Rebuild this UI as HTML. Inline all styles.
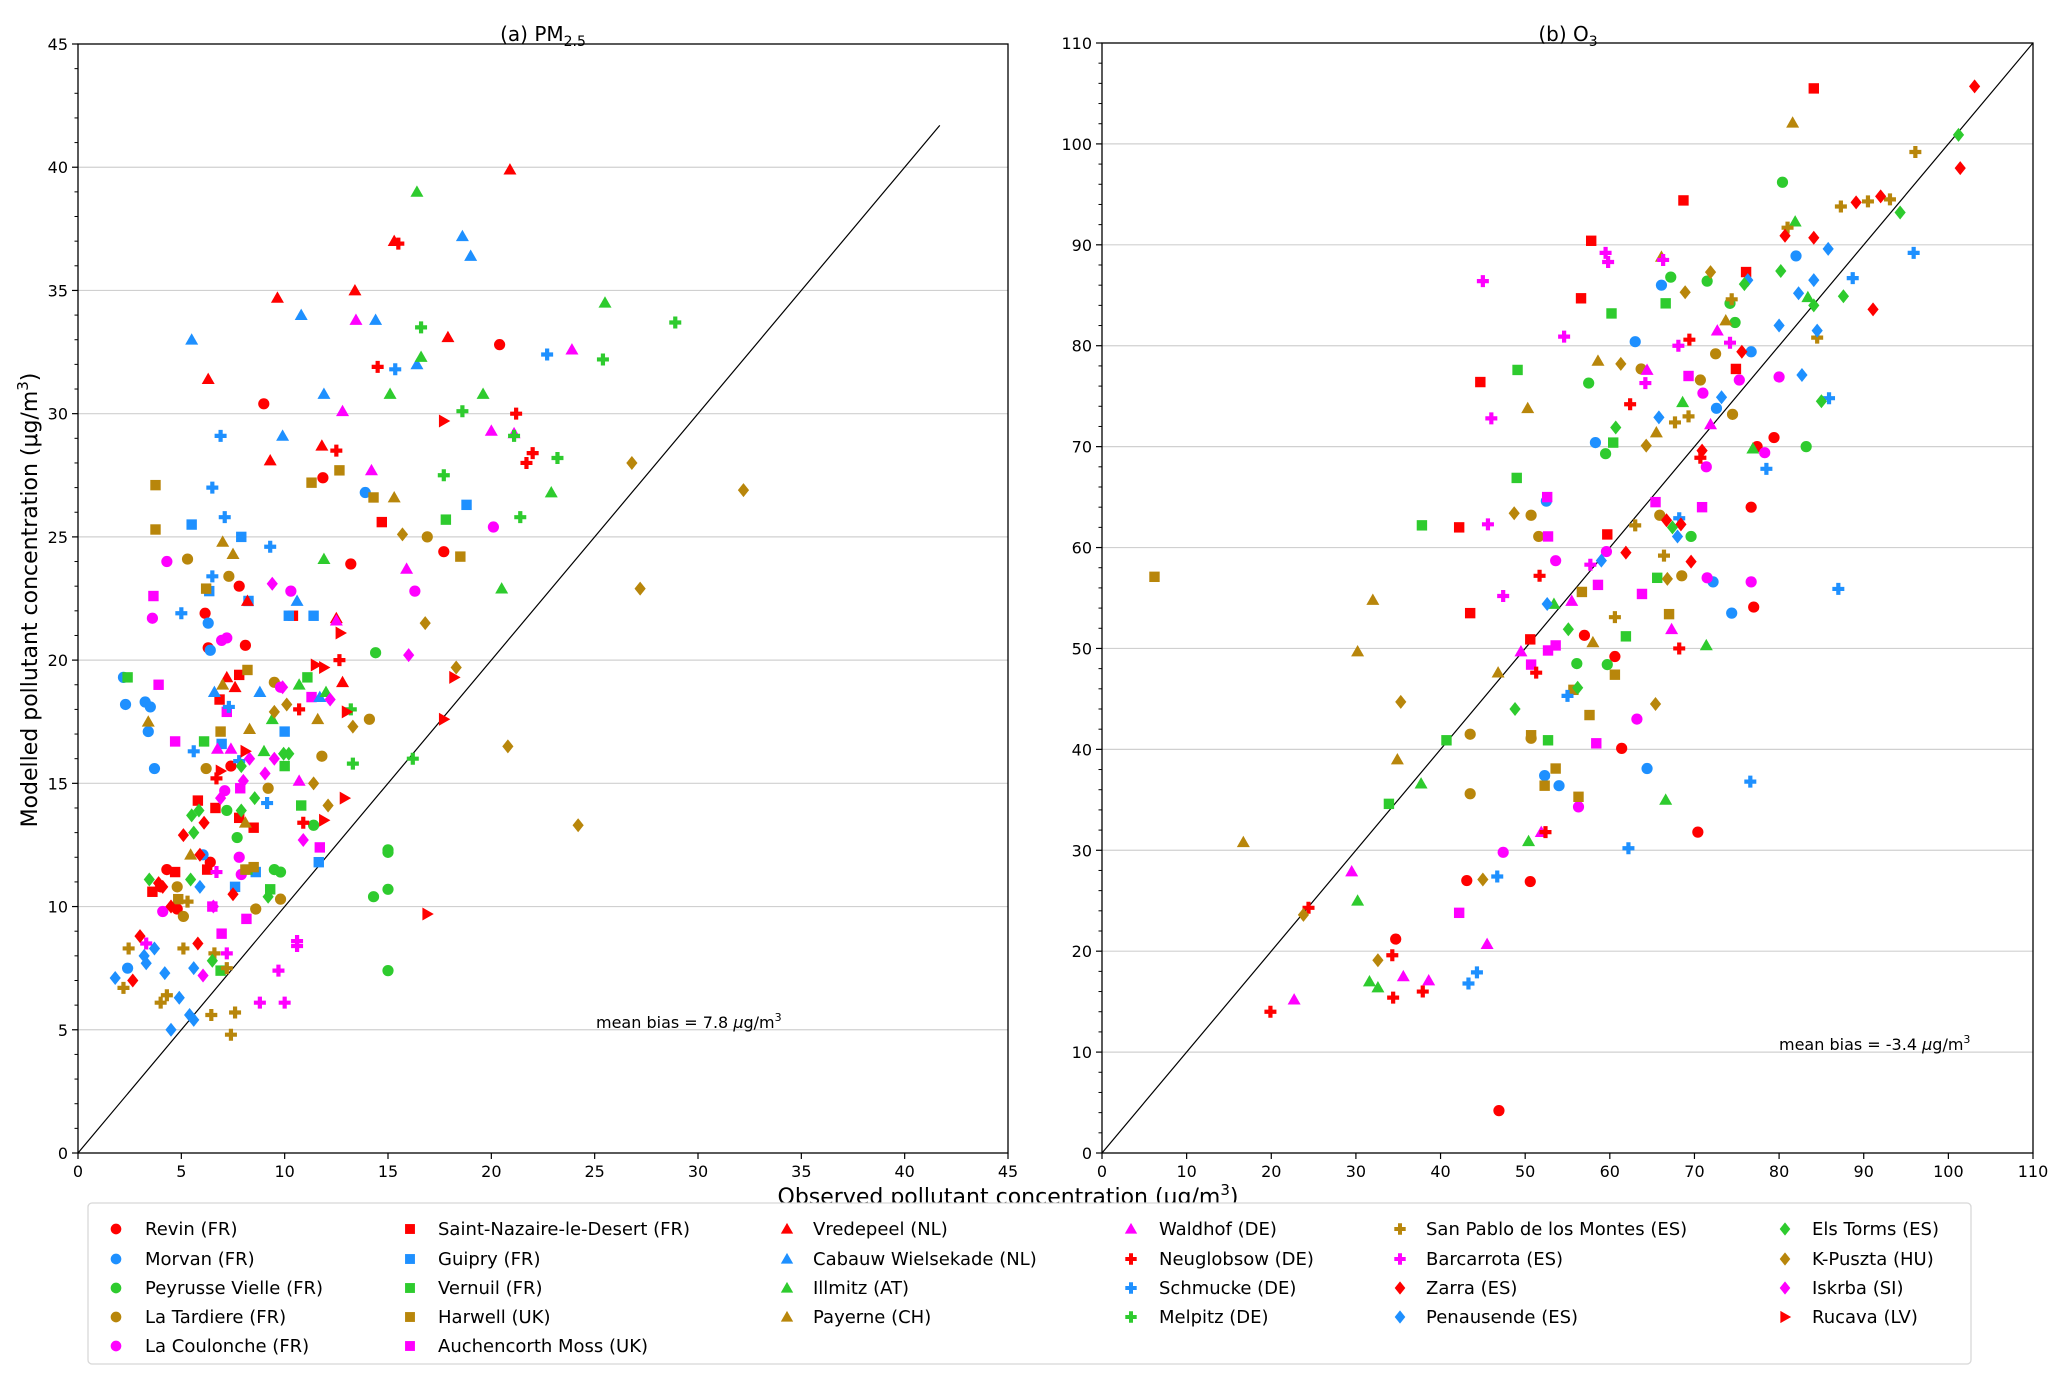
<!DOCTYPE html>
<html><head><meta charset="utf-8"><style>
html,body{margin:0;padding:0;background:#fff;}
svg{display:block;font-family:"DejaVu Sans","Liberation Sans",sans-serif;}
</style></head><body>
<svg id="chart" width="2067" height="1384" viewBox="0 0 2067 1384" xmlns="http://www.w3.org/2000/svg">
<rect width="2067" height="1384" fill="#fff"/>
<g id="panelA"></g>
<g id="panelB"></g>
<text x="543" y="41" font-size="20" text-anchor="middle">(a) PM<tspan font-size="14" dy="5">2.5</tspan></text>
<text x="1568" y="41" font-size="20" text-anchor="middle">(b) O<tspan font-size="14" dy="5">3</tspan></text>
<text transform="translate(37,600) rotate(-90)" font-size="22" text-anchor="middle">Modelled pollutant concentration (μg/m<tspan font-size="15" dy="-9">3</tspan><tspan dy="9">)</tspan></text>
<text x="1008" y="1204" font-size="22" text-anchor="middle">Observed pollutant concentration (μg/m<tspan font-size="15" dy="-9">3</tspan><tspan dy="9">)</tspan></text>
<text x="596" y="1028" font-size="16">mean bias = 7.8 <tspan font-style="italic">μ</tspan>g/m<tspan font-size="11" dy="-7">3</tspan></text>
<text x="1779" y="1050" font-size="16">mean bias = -3.4 <tspan font-style="italic">μ</tspan>g/m<tspan font-size="11" dy="-7">3</tspan></text>
<g id="legend"></g>
</svg>
<script>
// ---- PM2.5 data ----
const pm_revin=[[8.99,30.4],[20.4,32.8],[11.85,27.4],[13.2,23.9],[17.7,24.4],[7.8,23.0],[6.15,21.9],[6.3,20.5],[8.1,20.6],[7.4,15.7],[4.3,11.5],[4.0,10.8],[4.8,9.9],[6.4,11.8]];
const pm_morvan=[[2.2,19.3],[2.3,18.2],[3.25,18.3],[3.5,18.1],[3.4,17.1],[3.7,15.6],[13.9,26.8],[6.3,21.5],[6.4,20.4],[2.4,7.5],[6.05,12.1]];
const pm_peyrusse=[[14.4,20.3],[15.0,12.3],[15.0,12.2],[15.0,10.7],[14.3,10.4],[15.0,7.4],[11.4,13.3],[7.7,12.8],[9.5,11.5],[9.8,11.4],[7.2,13.9]];
const pm_tardiere=[[5.3,24.1],[7.3,23.4],[16.9,25.0],[14.1,17.6],[11.8,16.1],[9.5,19.1],[6.2,15.6],[9.2,14.8],[5.1,9.6],[8.6,9.9],[9.8,10.3],[4.8,10.8]];
const pm_coulonche=[[4.3,24.0],[3.6,21.7],[10.3,22.8],[7.2,20.9],[6.95,20.8],[16.3,22.8],[20.1,25.4],[9.8,18.9],[7.1,14.7],[7.8,12.0],[4.1,9.8],[7.9,11.3]];
const pm_stnazaire=[[14.7,25.6],[10.4,21.8],[7.8,19.4],[6.85,18.4],[6.65,14.0],[5.8,14.3],[4.7,11.4],[6.25,11.5],[3.6,10.6],[8.5,13.2],[7.8,13.6]];
const pm_guipry=[[5.5,25.5],[7.9,25.0],[8.25,22.4],[10.2,21.8],[11.4,21.8],[18.8,26.3],[6.35,22.8],[10.0,17.1],[6.95,16.6],[11.65,11.8],[8.6,11.4],[7.6,10.8]];
const pm_vernuil=[[2.4,19.3],[17.8,25.7],[11.1,19.3],[10.8,14.1],[6.1,16.7],[9.3,10.7],[8.2,11.5],[6.9,7.4],[10.0,15.7]];
const pm_harwell=[[3.75,27.1],[3.75,25.3],[11.3,27.2],[12.65,27.7],[14.3,26.6],[18.5,24.2],[6.2,22.9],[8.2,19.6],[6.9,17.1],[8.5,11.6],[8.1,11.5],[4.85,10.3]];
const pm_auchencorth=[[3.65,22.6],[3.9,19.0],[4.7,16.7],[7.2,17.9],[11.3,18.5],[7.85,14.8],[11.7,12.4],[8.15,9.5],[6.95,8.9],[6.5,10.0]];
const pm_vredepeel=[[20.9,39.9],[15.3,37.0],[9.65,34.7],[13.4,35.0],[6.3,31.4],[17.9,33.1],[9.3,28.1],[11.8,28.7],[8.2,22.4],[12.5,21.7],[7.2,19.3],[7.6,18.9],[12.8,19.1]];
const pm_cabauw=[[5.5,33.0],[10.8,34.0],[14.4,33.8],[18.6,37.2],[19.0,36.4],[16.4,32.0],[11.9,30.8],[9.9,29.1],[10.6,22.4],[6.6,18.7],[8.8,18.7],[11.7,18.5]];
const pm_illmitz=[[16.4,39.0],[25.5,34.5],[16.6,32.3],[15.1,30.8],[19.6,30.8],[22.9,26.8],[11.9,24.1],[20.5,22.9],[10.7,19.0],[9.4,17.6],[9.0,16.3],[12.0,18.7]];
const pm_payerne=[[15.3,26.6],[7.5,24.3],[7.0,24.8],[3.4,17.5],[7.0,19.0],[8.3,17.2],[11.6,17.6],[8.1,13.4],[5.45,12.1]];
const pm_waldhof=[[13.45,33.8],[12.8,30.1],[23.9,32.6],[14.2,27.7],[21.1,29.2],[20.0,29.3],[15.9,23.7],[12.5,21.6],[7.4,16.4],[10.7,15.1],[6.75,16.4]];
const pm_neuglobsow=[[15.5,36.9],[14.5,31.9],[21.2,30.0],[22.0,28.4],[21.7,28.0],[12.5,28.5],[12.65,20.0],[10.7,18.0],[10.9,13.4],[6.7,15.2]];
const pm_schmucke=[[6.9,29.1],[6.5,27.0],[7.1,25.8],[9.3,24.6],[6.5,23.4],[5.0,21.9],[22.7,32.4],[15.35,31.8],[5.6,16.3],[9.15,14.2],[7.8,15.9],[7.3,18.1]];
const pm_melpitz=[[28.9,33.7],[16.6,33.5],[25.4,32.2],[18.6,30.1],[21.1,29.1],[23.2,28.2],[17.7,27.5],[21.4,25.8],[16.2,16.0],[13.3,15.8],[13.2,18.0]];
const pm_sanpablo=[[2.45,8.3],[2.2,6.7],[5.1,8.3],[5.3,10.2],[6.6,8.1],[4.0,6.1],[4.3,6.4],[6.45,5.6],[7.6,5.7],[7.4,4.8],[7.2,7.5]];
const pm_barcarrota=[[10.6,8.6],[10.6,8.4],[9.7,7.4],[8.8,6.1],[10.0,6.1],[7.2,8.1],[6.7,11.4],[3.3,8.5]];
const pm_zarra=[[3.0,8.8],[2.65,7.0],[6.1,13.4],[5.9,12.1],[5.1,12.9],[4.5,10.0],[4.1,10.8],[5.8,8.5],[7.5,10.5],[3.9,10.95]];
const pm_penausende=[[1.8,7.1],[3.2,8.0],[3.7,8.3],[3.3,7.7],[4.2,7.3],[4.9,6.3],[4.5,5.0],[5.4,5.6],[5.6,5.4],[5.6,7.5],[5.9,10.8]];
const pm_elstorms=[[3.45,11.1],[5.5,13.7],[5.85,13.9],[5.6,13.0],[5.45,11.1],[7.9,13.9],[7.9,15.7],[8.55,14.4],[9.95,16.2],[9.2,10.4],[6.5,7.8],[10.2,16.2]];
const pm_kpuszta=[[26.8,28.0],[32.2,26.9],[27.2,22.9],[20.8,16.5],[24.2,13.3],[18.3,19.7],[16.8,21.5],[15.7,25.1],[13.3,17.3],[11.4,15.0],[12.1,14.1],[10.1,18.2],[9.5,17.9]];
const pm_iskrba=[[9.4,23.1],[16.0,20.2],[12.2,18.4],[9.9,18.9],[9.5,16.0],[8.3,16.0],[8.0,15.1],[9.05,15.4],[10.9,12.7],[6.9,14.4],[6.05,7.2],[6.55,10.0]];
const pm_rucava=[[17.7,29.7],[12.7,21.1],[11.5,19.8],[11.9,19.7],[18.2,19.3],[17.7,17.6],[13.0,17.9],[12.9,14.4],[11.9,13.5],[16.9,9.7],[6.9,15.5],[8.1,16.3]];
// ---- O3 data ----
const o3_revin=[[46.9,4.2],[34.7,21.2],[43.1,27.0],[50.6,26.9],[70.4,31.8],[61.4,40.1],[60.6,49.2],[57.0,51.3],[76.7,64.0],[77.0,54.1],[77.4,70.0],[79.4,70.9]];
const o3_morvan=[[52.3,37.4],[54.0,36.4],[64.4,38.1],[74.4,53.5],[72.2,56.6],[58.3,70.4],[52.5,64.6],[66.1,86.0],[63.0,80.4],[72.6,73.8],[76.7,79.4],[82.0,88.9]];
const o3_peyrusse=[[80.4,96.2],[57.5,76.3],[67.2,86.8],[71.5,86.4],[74.2,84.2],[74.8,82.3],[59.5,69.3],[69.6,61.1],[83.2,70.0],[56.1,48.5],[59.7,48.4]];
const o3_tardiere=[[43.5,41.5],[43.5,35.6],[50.7,63.2],[51.6,61.1],[50.7,41.1],[63.7,77.7],[65.9,63.2],[68.5,57.2],[70.7,76.6],[72.5,79.2],[74.5,73.2]];
const o3_coulonche=[[47.4,29.8],[56.3,34.3],[63.2,43.0],[53.6,58.7],[59.6,59.6],[71.5,57.0],[76.7,56.6],[71.0,75.3],[75.3,76.6],[80.0,76.9],[78.3,69.4],[71.4,68.0]];
const o3_stnazaire=[[44.7,76.4],[42.2,62.0],[43.5,53.5],[50.6,50.9],[56.6,84.7],[57.8,90.4],[68.7,94.4],[84.1,105.5],[76.1,87.3],[74.9,77.7],[59.7,61.3]];
const o3_vernuil=[[37.8,62.2],[40.7,40.9],[33.9,34.6],[49.1,77.6],[49.0,66.9],[60.2,83.2],[60.4,70.4],[66.6,84.2],[61.9,51.2],[65.6,57.0],[52.7,40.9]];
const o3_harwell=[[6.2,57.1],[50.7,41.4],[52.3,36.4],[53.6,38.1],[56.3,35.3],[57.6,43.4],[60.6,47.4],[56.7,55.6],[67.0,53.4],[55.7,45.9]];
const o3_auchencorth=[[42.2,23.8],[50.7,48.4],[52.7,49.8],[53.6,50.3],[52.7,61.1],[52.6,65.0],[58.6,56.3],[58.4,40.6],[63.8,55.4],[65.4,64.5],[70.9,64.0],[69.3,77.0]];
const o3_illmitz=[[31.6,17.0],[32.6,16.4],[30.2,25.0],[37.7,36.6],[50.4,30.9],[53.4,54.4],[66.6,35.0],[71.4,50.3],[68.6,74.4],[76.9,69.8],[81.9,92.3],[83.4,84.8]];
const o3_payerne=[[16.7,30.8],[30.2,49.7],[32.0,54.8],[34.9,39.0],[46.8,47.6],[50.3,73.8],[58.6,78.5],[58.0,50.6],[65.5,71.4],[66.1,88.8],[73.7,82.5],[81.6,102.1]];
const o3_waldhof=[[22.7,15.2],[29.5,27.9],[35.6,17.5],[38.6,17.1],[45.5,20.7],[51.9,31.8],[49.5,49.7],[55.5,54.7],[67.3,51.9],[64.4,77.6],[71.9,72.2],[72.7,81.5]];
const o3_neuglobsow=[[19.9,14.0],[24.4,24.3],[34.3,19.6],[34.4,15.4],[37.9,16.0],[52.4,31.8],[51.3,47.6],[51.7,57.2],[62.4,74.2],[69.4,80.6],[68.2,50.0],[70.7,68.9]];
const o3_schmucke=[[43.3,16.8],[44.3,17.9],[46.7,27.4],[55.0,45.3],[62.2,30.2],[68.2,62.9],[76.6,36.8],[78.5,67.8],[85.9,74.8],[87.0,55.9],[88.7,86.7],[95.9,89.2]];
const o3_sanpablo=[[60.6,53.1],[63.0,62.2],[66.4,59.2],[67.7,72.4],[69.3,73.0],[74.4,84.6],[81.0,91.7],[84.5,80.8],[87.3,93.8],[90.5,94.3],[93.1,94.5],[96.1,99.2]];
const o3_barcarrota=[[45.0,86.4],[45.6,62.3],[46.0,72.8],[47.4,55.2],[54.6,80.9],[57.7,58.3],[59.5,89.2],[59.8,88.3],[64.2,76.3],[66.3,88.5],[68.1,80.0],[74.2,80.3]];
const o3_zarra=[[61.9,59.5],[66.7,62.7],[68.4,62.3],[69.6,58.6],[70.9,69.6],[75.6,79.4],[80.7,90.9],[84.1,90.7],[89.1,94.2],[92.0,94.8],[91.1,83.6],[101.4,97.6],[103.1,105.7]];
const o3_penausende=[[52.6,54.4],[59.0,58.7],[65.8,72.9],[68.0,61.1],[73.2,74.9],[76.3,86.5],[80.0,82.0],[82.7,77.1],[82.3,85.2],[84.1,86.5],[84.5,81.5],[85.8,89.6]];
const o3_elstorms=[[48.8,44.0],[55.1,51.9],[56.2,46.1],[60.7,71.9],[67.4,62.0],[75.9,86.1],[80.2,87.4],[84.1,84.0],[85.0,74.5],[87.6,84.9],[94.3,93.2],[101.2,100.9]];
const o3_kpuszta=[[23.8,23.6],[32.6,19.1],[35.3,44.7],[45.0,27.1],[48.7,63.4],[61.3,78.2],[64.3,70.1],[65.4,44.5],[66.8,56.9],[68.9,85.3],[71.9,87.3]];
const pmTicks=[0,5,10,15,20,25,30,35,40,45];
const o3Ticks=[0,10,20,30,40,50,60,70,80,90,100,110];
const pmDiagMax=41.7;
const o3DiagMax=110;

const R='#ff0000',B='#1e90ff',G='#2ecb2e',Y='#b8860b',M='#ff00ff';
const series=[
 {name:'Revin (FR)',c:R,m:'o',pm:pm_revin,o3:o3_revin},
 {name:'Morvan (FR)',c:B,m:'o',pm:pm_morvan,o3:o3_morvan},
 {name:'Peyrusse Vielle (FR)',c:G,m:'o',pm:pm_peyrusse,o3:o3_peyrusse},
 {name:'La Tardiere (FR)',c:Y,m:'o',pm:pm_tardiere,o3:o3_tardiere},
 {name:'La Coulonche (FR)',c:M,m:'o',pm:pm_coulonche,o3:o3_coulonche},
 {name:'Saint-Nazaire-le-Desert (FR)',c:R,m:'s',pm:pm_stnazaire,o3:o3_stnazaire},
 {name:'Guipry (FR)',c:B,m:'s',pm:pm_guipry,o3:[]},
 {name:'Vernuil (FR)',c:G,m:'s',pm:pm_vernuil,o3:o3_vernuil},
 {name:'Harwell (UK)',c:Y,m:'s',pm:pm_harwell,o3:o3_harwell},
 {name:'Auchencorth Moss (UK)',c:M,m:'s',pm:pm_auchencorth,o3:o3_auchencorth},
 {name:'Vredepeel (NL)',c:R,m:'^',pm:pm_vredepeel,o3:[]},
 {name:'Cabauw Wielsekade (NL)',c:B,m:'^',pm:pm_cabauw,o3:[]},
 {name:'Illmitz (AT)',c:G,m:'^',pm:pm_illmitz,o3:o3_illmitz},
 {name:'Payerne (CH)',c:Y,m:'^',pm:pm_payerne,o3:o3_payerne},
 {name:'Waldhof (DE)',c:M,m:'^',pm:pm_waldhof,o3:o3_waldhof},
 {name:'Neuglobsow (DE)',c:R,m:'P',pm:pm_neuglobsow,o3:o3_neuglobsow},
 {name:'Schmucke (DE)',c:B,m:'P',pm:pm_schmucke,o3:o3_schmucke},
 {name:'Melpitz (DE)',c:G,m:'P',pm:pm_melpitz,o3:[]},
 {name:'San Pablo de los Montes (ES)',c:Y,m:'P',pm:pm_sanpablo,o3:o3_sanpablo},
 {name:'Barcarrota (ES)',c:M,m:'P',pm:pm_barcarrota,o3:o3_barcarrota},
 {name:'Zarra (ES)',c:R,m:'D',pm:pm_zarra,o3:o3_zarra},
 {name:'Penausende (ES)',c:B,m:'D',pm:pm_penausende,o3:o3_penausende},
 {name:'Els Torms (ES)',c:G,m:'D',pm:pm_elstorms,o3:o3_elstorms},
 {name:'K-Puszta (HU)',c:Y,m:'D',pm:pm_kpuszta,o3:o3_kpuszta},
 {name:'Iskrba (SI)',c:M,m:'D',pm:pm_iskrba,o3:[]},
 {name:'Rucava (LV)',c:R,m:'>',pm:pm_rucava,o3:[]}
];
const NS='http://www.w3.org/2000/svg';
function el(tag,attrs,parent){const e=document.createElementNS(NS,tag);for(const k in attrs)e.setAttribute(k,attrs[k]);parent.appendChild(e);return e;}
function marker(m,x,y,c,g,s){
 s=s||1;let e;
 if(m==='o')e=el('circle',{cx:x,cy:y,r:5.6*s,fill:c},g);
 else if(m==='s'){const h=5.2*s;e=el('rect',{x:x-h,y:y-h,width:2*h,height:2*h,fill:c},g);}
 else if(m==='^'){const h=6.5*s;e=el('polygon',{points:`${x},${y-h} ${x-h},${y+h*0.75} ${x+h},${y+h*0.75}`,fill:c},g);}
 else if(m==='>'){const h=6.5*s;e=el('polygon',{points:`${x+h},${y} ${x-h*0.75},${y-h} ${x-h*0.75},${y+h}`,fill:c},g);}
 else if(m==='D'){const h=7*s;e=el('polygon',{points:`${x},${y-h} ${x+h*0.8},${y} ${x},${y+h} ${x-h*0.8},${y}`,fill:c},g);}
 else if(m==='P'){const a=6*s,b=2.1*s;e=el('path',{d:`M${x-b},${y-a}h${2*b}v${a-b}h${a-b}v${2*b}h${-(a-b)}v${a-b}h${-2*b}v${-(a-b)}h${-(a-b)}v${-2*b}h${a-b}z`,fill:c},g);}
 return e;
}
function panel(gid,x0,x1,y0,y1,max,ticks,key,diagMax,prefix){
 const g=document.getElementById(gid);
 const sx=v=>x0+(x1-x0)*v/max, sy=v=>y0-(y0-y1)*v/max;
 const step=ticks[1]-ticks[0];
 ticks.forEach(t=>{
  if(t>0&&t<max){const l=el('line',{x1:x0,x2:x1,y1:sy(t),y2:sy(t),stroke:'#d0d0d0','stroke-width':1.2},g);
   
   }
  el('line',{x1:sx(t),x2:sx(t),y1:y0,y2:y0+6,stroke:'#000','stroke-width':1.2},g);
  el('line',{x1:x0,x2:x0-6,y1:sy(t),y2:sy(t),stroke:'#000','stroke-width':1.2},g);
  const tx=el('text',{x:sx(t),y:y0+24,'font-size':16,'text-anchor':'middle'},g);tx.textContent=t;
  
  
  const ty=el('text',{x:x0-10,y:sy(t)+6,'font-size':16,'text-anchor':'end'},g);ty.textContent=t;
  
  
  if(t<max){for(let k=1;k<5;k++){const mv=t+step*k/5;el('line',{x1:x0,x2:x0-3.5,y1:sy(mv),y2:sy(mv),stroke:'#000','stroke-width':1},g);}}
 });
 const d=el('line',{x1:sx(0),y1:sy(0),x2:sx(diagMax),y2:sy(diagMax),stroke:'#000','stroke-width':1.2},g);
 
 
 series.forEach(s=>{
  const sg=el('g',{},g);
  
  
  s[key].forEach(p=>{const mk=marker(s.m,sx(p[0]),sy(p[1]),s.c,sg);
   
   });
 });
 const fr=el('rect',{x:x0,y:y1,width:x1-x0,height:y0-y1,fill:'none',stroke:'#000','stroke-width':1.3},g);
 
 
}
panel('panelA',78,1008,1153,44,45,pmTicks,'pm',pmDiagMax,'pm25');
panel('panelB',1102,2033,1153,43,110,o3Ticks,'o3',o3DiagMax,'o3');
// legend
const lg=document.getElementById('legend');
el('rect',{x:88,y:1203,width:1883,height:161,rx:4,fill:'#fff',stroke:'#d8d8d8','stroke-width':1.3},lg);
const colMk=[116,410,787,1131,1400,1785], colTx=[133,426,801,1147,1414,1800];
const rowY=[1229,1259,1288,1317,1346];
const colCounts=[5,5,4,4,4,4];
let idx=0;
colCounts.forEach((n,ci)=>{for(let r=0;r<n;r++){const s=series[idx++];
 const eg=el('g',{},lg);
 
 
 marker(s.m,colMk[ci],rowY[r],s.c,eg,0.95);
 const t=el('text',{x:colTx[ci]+12,y:rowY[r]+6,'font-size':18},eg);t.textContent=s.name;}});
</script>
</body></html>
